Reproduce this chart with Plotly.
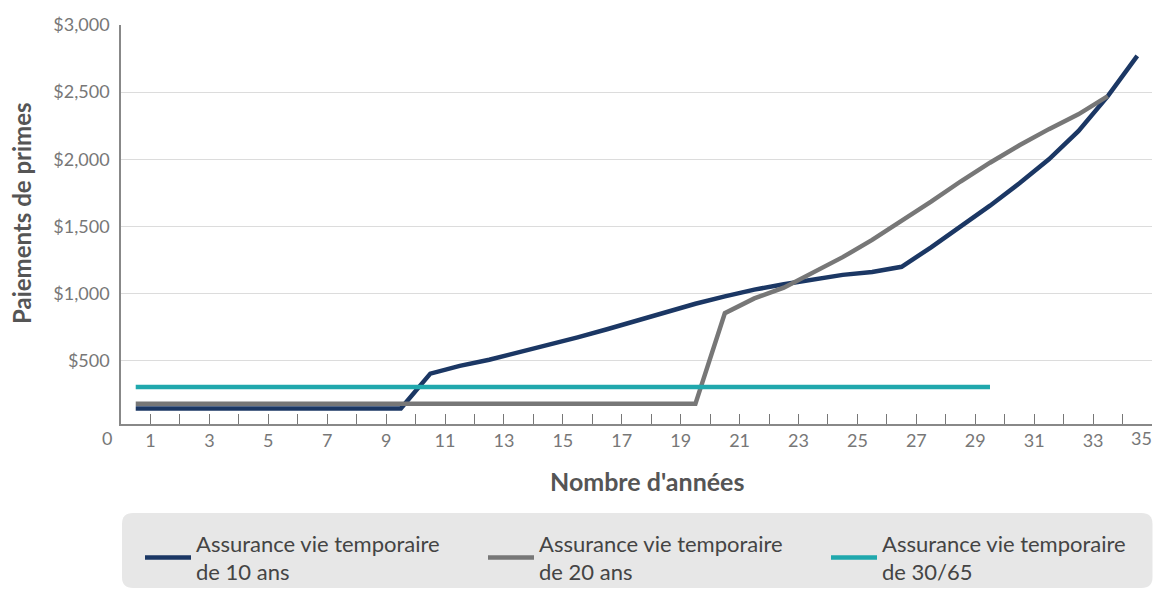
import plotly.graph_objects as go

years_10 = [i + 0.5 for i in range(35)]
prem_10 = [145, 145, 145, 145, 145, 145, 145, 145, 145, 145,
           405, 463, 508, 562, 618, 675, 735, 800, 862, 925,
           980, 1030, 1070, 1108, 1140, 1162, 1200, 1345, 1495, 1655,
           1822, 2000, 2210, 2470, 2770]

years_20 = [i + 0.5 for i in range(34)]
prem_20 = [180] * 20 + [855, 965, 1045, 1155, 1272, 1400, 1540, 1685, 1835, 1975,
                        2105, 2225, 2335, 2470]

years_30 = [i + 0.5 for i in range(30)]
prem_30 = [306] * 30

y_tickvals = [500, 1000, 1500, 2000, 2500, 3000]
y_ticktext = ["$500", "$1,000", "$1,500", "$2,000", "$2,500", "$3,000"]
x_tickvals = list(range(1, 36, 2))
x_ticktext = [str(v) for v in x_tickvals[:-1]] + [""]   # last label drawn as annotation
x_last_label = "35"

names = ["Assurance vie temporaire<br>de 10 ans",
         "Assurance vie temporaire<br>de 20 ans",
         "Assurance vie temporaire<br>de 30/65"]
colors = ["#1b3764", "#777777", "#20a8ad"]

FONT = "Lato, 'Open Sans', sans-serif"

fig = go.Figure()
for xs, ys, nm, c in [(years_10, prem_10, names[0], colors[0]),
                      (years_20, prem_20, names[1], colors[1]),
                      (years_30, prem_30, names[2], colors[2])]:
    fig.add_trace(go.Scatter(x=xs, y=ys, name=nm, mode="lines",
                             line=dict(color=c, width=4.5, shape="linear"),
                             hoverinfo="x+y"))

# page body margin offset (px) in the screenshot
OFF = 8
W, H = 1163 - OFF, 590 - OFF
PL, PR, PT, PB = 121, 1152, 25, 424   # plot area in screenshot pixels
L, R, T, B = PL - OFF, W - (PR - OFF), PT - OFF, H - (PB - OFF)
pw = W - L - R
ph = H - T - B

def px2x(p):
    return (p - PL) / pw

def px2y(p):
    return (PB - p) / ph

# rounded legend background
x0, x1 = px2x(122), px2x(1152.5)
y0, y1 = px2y(588), px2y(513)
rx, ry = 11 / pw, 11 / ph
path = (f"M {x0+rx},{y1} L {x1-rx},{y1} Q {x1},{y1} {x1},{y1-ry} "
        f"L {x1},{y0+ry} Q {x1},{y0} {x1-rx},{y0} L {x0+rx},{y0} "
        f"Q {x0},{y0} {x0},{y0+ry} L {x0},{y1-ry} Q {x0},{y1} {x0+rx},{y1} Z")
fig.add_shape(type="path", path=path, xref="paper", yref="paper",
              fillcolor="#e7e7e7", line=dict(width=0), layer="below")

fig.add_annotation(text="0", x=px2x(107), y=px2y(438), xref="paper", yref="paper",
                   xanchor="center", yanchor="middle",
                   showarrow=False, font=dict(family=FONT, size=18, color="#777777"))
fig.add_annotation(text=x_last_label, x=px2x(1154), y=px2y(438), xref="paper", yref="paper",
                   xanchor="right", yanchor="middle",
                   showarrow=False, font=dict(family=FONT, size=18, color="#777777"))

# axis titles
fig.add_annotation(text="<b>Paiements de primes</b>", x=px2x(21), y=px2y(213),
                   xref="paper", yref="paper", textangle=-90,
                   xanchor="center", yanchor="middle", showarrow=False,
                   font=dict(family=FONT, size=24, color="#555555"))
fig.add_annotation(text="<b>Nombre d'années</b>", x=px2x(647), y=px2y(481),
                   xref="paper", yref="paper",
                   xanchor="center", yanchor="middle", showarrow=False,
                   font=dict(family=FONT, size=25, color="#555555"))

fig.update_layout(
    width=W, height=H,
    margin=dict(l=L, r=R, t=T, b=B, autoexpand=False),
    plot_bgcolor="white", paper_bgcolor="white",
    font=dict(family=FONT, color="#555555"),
    showlegend=True,
    legend=dict(orientation="h", x=px2x(140), xanchor="left",
                y=px2y(558), yanchor="middle",
                bgcolor="rgba(0,0,0,0)",
                font=dict(family=FONT, size=22, color="#444444"),
                entrywidth=282, entrywidthmode="pixels",
                itemwidth=46),
    xaxis=dict(range=[0, 35], tickmode="array", tickvals=x_tickvals, ticktext=x_ticktext,
               ticks="inside", ticklen=10, tickcolor="#777777", tickwidth=1,
               minor=dict(tick0=0, dtick=1, ticks="inside", ticklen=10,
                          tickcolor="#777777", tickwidth=1),
               showline=True, linecolor="#888888", linewidth=1.5,
               showgrid=False, zeroline=False, automargin=False,
               tickfont=dict(family=FONT, size=18, color="#777777")),
    yaxis=dict(range=[30, 3000], tickmode="array", tickvals=y_tickvals, ticktext=y_ticktext,
               showline=True, linecolor="#888888", linewidth=1.5,
               showgrid=True, gridcolor="#dcdcdc", gridwidth=1.2,
               zeroline=False, ticks="", ticklabelstandoff=6, automargin=False,
               tickfont=dict(family=FONT, size=18, color="#777777")),
)

fig.write_html("out.html")
